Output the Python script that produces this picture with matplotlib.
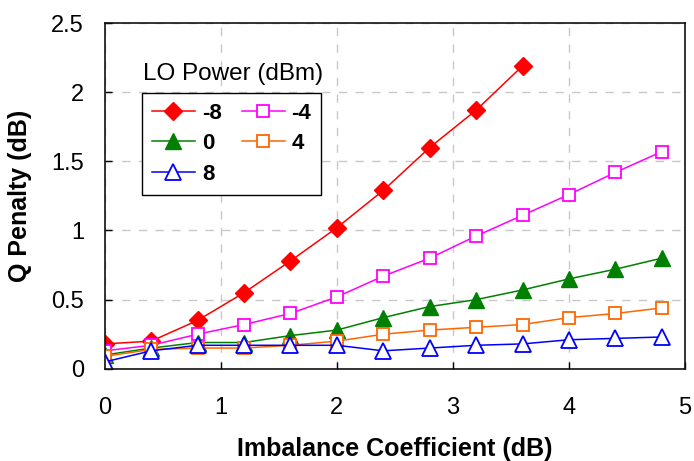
import matplotlib
matplotlib.use("Agg")
import matplotlib.pyplot as plt

plt.rcParams['font.family'] = ['Liberation Sans', 'DejaVu Sans']

# Imbalance coefficient (dB) sample points
x_full = [0, 0.4, 0.8, 1.2, 1.6, 2.0, 2.4, 2.8, 3.2, 3.6, 4.0, 4.4, 4.8]
x_m8 = [0, 0.4, 0.8, 1.2, 1.6, 2.0, 2.4, 2.8, 3.2, 3.6]

# Q penalty (dB) for each LO power (dBm)
q_m8 = [0.18, 0.20, 0.35, 0.55, 0.78, 1.02, 1.29, 1.60, 1.87, 2.19]
q_m4 = [0.13, 0.17, 0.25, 0.32, 0.40, 0.52, 0.67, 0.80, 0.96, 1.11, 1.26, 1.42, 1.57]
q_0 = [0.10, 0.15, 0.19, 0.19, 0.24, 0.28, 0.37, 0.45, 0.50, 0.57, 0.65, 0.72, 0.80]
q_4 = [0.09, 0.14, 0.15, 0.15, 0.17, 0.20, 0.25, 0.28, 0.30, 0.32, 0.37, 0.40, 0.44]
q_8 = [0.05, 0.13, 0.17, 0.17, 0.17, 0.17, 0.13, 0.15, 0.17, 0.18, 0.21, 0.22, 0.23]

fig = plt.figure(figsize=(6.94, 4.61), dpi=100)
ax = fig.add_axes([0.151, 0.200, 0.836, 0.750])

h_m8, = ax.plot(x_m8, q_m8, color='#ff0000', lw=1.1, marker='D', ms=9,
                mfc='#ff0000', mec='#ff0000', label='-8')
h_m4, = ax.plot(x_full, q_m4, color='#ff00ff', lw=1.1, marker='s', ms=8,
                mfc='white', mec='#ff00ff', mew=1.3, label='-4')
h_0, = ax.plot(x_full, q_0, color='#008000', lw=1.1, marker='^', ms=12,
               mfc='#008000', mec='#008000', label='0')
h_4, = ax.plot(x_full, q_4, color='#ff6600', lw=1.1, marker='s', ms=8,
               mfc='white', mec='#ff6600', mew=1.3, label='4')
h_8, = ax.plot(x_full, q_8, color='#0000ff', lw=1.1, marker='^', ms=12,
               mfc='white', mec='#0000ff', mew=1.3, label='8')

ax.set_xlim(0, 5)
ax.set_ylim(0, 2.5)
ax.set_xticks([0, 1, 2, 3, 4, 5])
ax.set_yticks([0, 0.5, 1, 1.5, 2, 2.5])
ax.set_yticklabels(['0', '0.5', '1', '1.5', '2', '2.5'])
ax.grid(True, color='#c8c8c8', linestyle=(0, (6, 6)), lw=1)
ax.set_axisbelow(True)
ax.tick_params(direction='in', length=5, width=1, labelsize=17)
ax.tick_params(axis='x', pad=20)
ax.tick_params(axis='y', pad=15)
for s in ax.spines.values():
    s.set_linewidth(1.2)
    s.set_color('#111111')

ax.set_xlabel('Imbalance Coefficient (dB)', fontsize=18, fontweight='bold', labelpad=13)
ax.set_ylabel('Q Penalty (dB)', fontsize=18, fontweight='bold', labelpad=14)

leg = ax.legend(handles=[h_m8, h_0, h_8, h_m4, h_4], ncol=2,
                loc='upper left', bbox_to_anchor=(0.0638, 0.798),
                borderaxespad=0,
                prop={'weight': 'bold', 'size': 16}, frameon=True,
                fancybox=False, edgecolor='black', framealpha=1,
                handlelength=1.95, columnspacing=0.9, handletextpad=0.3,
                borderpad=0.45, labelspacing=0.42)
leg.get_frame().set_linewidth(1.0)

ax.text(0.066, 0.853, 'LO Power (dBm)', transform=ax.transAxes,
        fontsize=17.5, ha='left', va='center')

fig.savefig('out.png', dpi=100)
